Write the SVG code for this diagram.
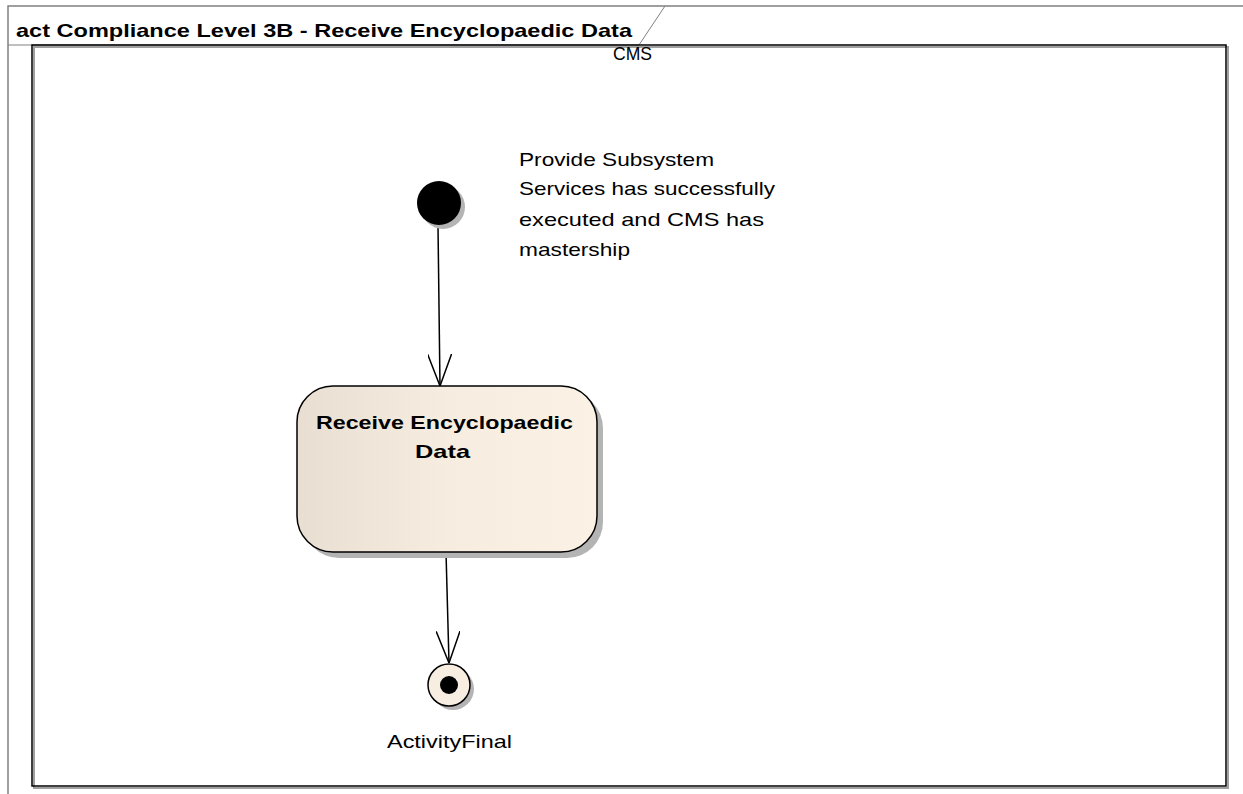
<svg xmlns="http://www.w3.org/2000/svg" width="1243" height="794" viewBox="0 0 1243 794">
<style>
.t{font-family:"Liberation Sans",Arial,sans-serif;fill:#000}
.n{font-size:19px}
.b{font-size:19px;font-weight:bold}
.shadow{fill:#b4b4b4}
.ln{stroke:#000;stroke-width:1.5;fill:none}
</style>
<defs>
<linearGradient id="g" x1="0" y1="0" x2="1" y2="0">
<stop offset="0" stop-color="#e8dfd2"/>
<stop offset="0.5" stop-color="#f6ece0"/>
<stop offset="1" stop-color="#fbf1e5"/>
</linearGradient>
<marker id="arr" viewBox="0 0 32 24" refX="32" refY="12" markerWidth="32" markerHeight="24" markerUnits="userSpaceOnUse" orient="auto">
<path d="M0,0 L32,12 L0,24" fill="none" stroke="#000" stroke-width="1.5"/>
</marker>
</defs>
<rect width="1243" height="794" fill="#fff"/>
<g id="frame">
<path d="M8,794 V6 H1243" fill="none" stroke="#808080" stroke-width="1.5"/>
<path d="M8,45 H639 L665,6" fill="none" stroke="#808080" stroke-width="1"/>
<text class="t b" x="16" y="37" font-size="19" textLength="616" lengthAdjust="spacingAndGlyphs">act Compliance Level 3B - Receive Encyclopaedic Data</text>
</g>
<g id="cms">
<rect x="34" y="47" width="1194" height="741" fill="none" stroke="#a0a0a0" stroke-width="2"/>
<rect x="32" y="45" width="1194" height="741" fill="none" stroke="#000" stroke-width="1.5"/>
<text class="t n" x="613" y="60" font-size="18" textLength="39" lengthAdjust="spacingAndGlyphs">CMS</text>
</g>
<g id="connectors">
<path class="ln" d="M438,226 L440,386" marker-end="url(#arr)"/>
<path class="ln" d="M446,552 L449,663" marker-end="url(#arr)"/>
</g>
<g id="initial">
<circle class="shadow" cx="443" cy="207" r="22"/>
<circle cx="439" cy="203" r="22" fill="#000"/>
</g>
<g id="note">
<text class="t n" x="519" y="166" textLength="195" lengthAdjust="spacingAndGlyphs">Provide Subsystem</text>
<text class="t n" x="519" y="195" textLength="256" lengthAdjust="spacingAndGlyphs">Services has successfully</text>
<text class="t n" x="519" y="226" textLength="245" lengthAdjust="spacingAndGlyphs">executed and CMS has</text>
<text class="t n" x="519" y="256" textLength="111" lengthAdjust="spacingAndGlyphs">mastership</text>
</g>
<g id="action">
<rect class="shadow" x="303" y="392" width="300" height="166" rx="36"/>
<rect x="297" y="386" width="300" height="166" rx="36" fill="url(#g)" stroke="#000" stroke-width="1.5"/>
<text class="t b" x="316" y="429" textLength="257" lengthAdjust="spacingAndGlyphs">Receive Encyclopaedic</text>
<text class="t b" x="415" y="458" textLength="55" lengthAdjust="spacingAndGlyphs">Data</text>
</g>
<g id="final">
<circle class="shadow" cx="453" cy="689" r="21"/>
<circle cx="449" cy="685" r="21" fill="#f7ede0" stroke="#000" stroke-width="1.5"/>
<circle cx="449" cy="685" r="9" fill="#000"/>
<text class="t n" x="387" y="748" textLength="125" lengthAdjust="spacingAndGlyphs">ActivityFinal</text>
</g>
</svg>
